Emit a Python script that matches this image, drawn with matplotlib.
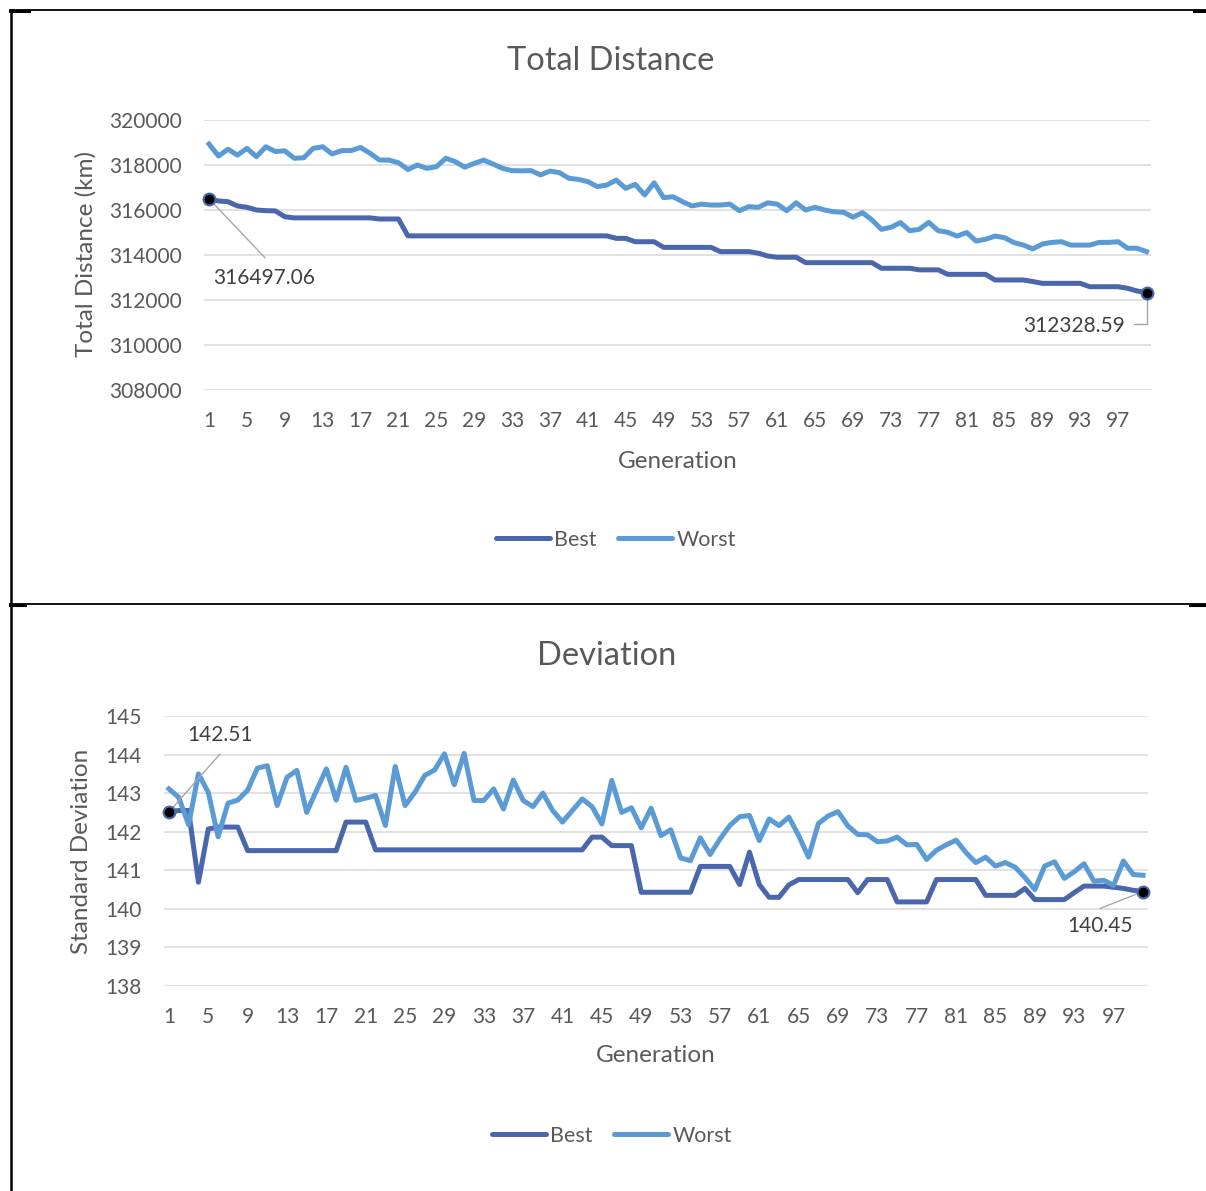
import matplotlib
matplotlib.use("Agg")
import matplotlib.pyplot as plt
from matplotlib.lines import Line2D
import numpy as np

plt.rcParams['font.family'] = ['Lato', 'DejaVu Sans']

# ---------------- data ----------------
generations = list(range(1, 101))

dist_best = [316497.06, 316400, 316370, 316180, 316120, 316000, 315970, 315960, 315700,
             315650, 315650, 315650, 315650, 315650, 315650, 315650, 315650, 315650,
             315600, 315600, 315600,
             314850, 314850, 314850, 314850, 314850, 314850, 314850, 314850, 314850, 314850, 314850,
             314850, 314850, 314850, 314850, 314850, 314850, 314850, 314850, 314850, 314850, 314850,
             314740, 314740,
             314590, 314590, 314590,
             314340, 314340, 314340, 314340, 314340, 314340,
             314150, 314150, 314150, 314150,
             314080, 313955,
             313900, 313900, 313900,
             313660, 313660, 313660, 313660, 313660, 313660, 313660, 313660,
             313410, 313410, 313410, 313410,
             313340, 313340, 313340,
             313140, 313140, 313140, 313140, 313140,
             312890, 312890, 312890, 312890,
             312820,
             312740, 312740, 312740, 312740, 312740,
             312590, 312590, 312590, 312590,
             312520, 312400, 312328.59]

dist_worst = [318930, 318400, 318700, 318440, 318740, 318370, 318810, 318600, 318630, 318300,
              318320, 318740, 318810, 318490, 318640, 318640, 318780, 318520, 318220, 318220,
              318100, 317800, 318000, 317850, 317920, 318300, 318150, 317900, 318070, 318220,
              318040, 317850, 317750, 317740, 317750, 317560, 317730, 317660, 317410, 317360,
              317260, 317040, 317110, 317330, 316960, 317140, 316670, 317210, 316550, 316590,
              316370, 316180, 316260, 316220, 316220, 316260, 315970, 316150, 316120, 316320,
              316260, 315970, 316320, 316000, 316120, 316000, 315920, 315900, 315680, 315880,
              315560, 315140, 315230, 315440, 315080, 315140, 315450, 315080, 315010, 314840,
              315000, 314620, 314700, 314840, 314770, 314550, 314440, 314270, 314490, 314560,
              314590, 314440, 314440, 314440, 314560, 314560, 314590, 314300, 314300, 314150]

dev_best = [142.51, 142.55, 142.55, 140.69, 142.07, 142.12, 142.12, 142.12,
            141.51, 141.51, 141.51, 141.51, 141.51, 141.51, 141.51, 141.51, 141.51, 141.51,
            142.25, 142.25, 142.25,
            141.53, 141.53, 141.53, 141.53, 141.53, 141.53, 141.53, 141.53, 141.53, 141.53, 141.53,
            141.53, 141.53, 141.53, 141.53, 141.53, 141.53, 141.53, 141.53, 141.53, 141.53, 141.53,
            141.86, 141.86,
            141.64, 141.64, 141.64,
            140.43, 140.43, 140.43, 140.43, 140.43, 140.43,
            141.10, 141.10, 141.10, 141.10,
            140.63, 141.47, 140.63,
            140.30, 140.30,
            140.62,
            140.76, 140.76, 140.76, 140.76, 140.76, 140.76,
            140.42,
            140.76, 140.76, 140.76,
            140.18, 140.18, 140.18, 140.18,
            140.76, 140.76, 140.76, 140.76, 140.76,
            140.35, 140.35, 140.35, 140.35,
            140.53,
            140.24, 140.24, 140.24, 140.24,
            140.42,
            140.59, 140.59, 140.59, 140.56,
            140.53, 140.48, 140.45]

dev_worst = [143.11, 142.89, 142.18, 143.50, 143.02, 141.87, 142.74, 142.82, 143.08, 143.65,
             143.71, 142.68, 143.41, 143.59, 142.50, 143.07, 143.63, 142.82, 143.67, 142.81,
             142.87, 142.94, 142.16, 143.69, 142.68, 143.02, 143.46, 143.60, 144.02, 143.22,
             144.03, 142.81, 142.81, 143.11, 142.59, 143.34, 142.81, 142.65, 143.00, 142.55,
             142.25, 142.55, 142.85, 142.65, 142.20, 143.33, 142.50, 142.62, 142.10, 142.61,
             141.90, 142.05, 141.32, 141.25, 141.84, 141.41, 141.81, 142.16, 142.39, 142.42,
             141.77, 142.33, 142.16, 142.38, 141.90, 141.34, 142.21, 142.41, 142.52, 142.15,
             141.93, 141.92, 141.74, 141.76, 141.86, 141.66, 141.67, 141.28, 141.52, 141.66,
             141.78, 141.46, 141.20, 141.34, 141.11, 141.20, 141.08, 140.81, 140.50, 141.11,
             141.22, 140.79, 140.96, 141.17, 140.72, 140.74, 140.61, 141.24, 140.89, 140.87]

dist_yticks = [308000, 310000, 312000, 314000, 316000, 318000, 320000]
dev_yticks = [138, 139, 140, 141, 142, 143, 144, 145]
xtick_labels = list(range(1, 101, 4))

# ---------------- style ----------------
W, H = 1206, 1191
C_BEST = '#4A66AC'
C_WORST = '#5B9BD5'
TXT = '#595959'
GRID = '#D9D9D9'
LEAD = '#A6A6A6'

fig = plt.figure(figsize=(W / 100, H / 100), dpi=100)
fig.patch.set_facecolor('white')


def fx(x):
    return x / W


def fy(y):
    return 1 - y / H


def make_axes(left, right, top, bottom):
    return fig.add_axes([fx(left), fy(bottom), (right - left) / W, (bottom - top) / H])


def style_axes(ax, yticks):
    ax.set_xlim(0.5, 100.5)
    ax.set_ylim(yticks[0], yticks[-1])
    ax.set_yticks(yticks)
    ax.set_yticklabels([str(v) for v in yticks])
    ax.set_xticks(xtick_labels)
    ax.set_xticklabels([str(v) for v in xtick_labels])
    for s in ax.spines.values():
        s.set_visible(False)
    ax.grid(axis='y', color=GRID, linewidth=1.1)
    ax.set_axisbelow(True)
    ax.tick_params(axis='both', length=0, labelsize=15, colors=TXT)
    ax.tick_params(axis='y', pad=16)
    ax.tick_params(axis='x', pad=15)
    ax.set_facecolor('white')


# ---------------- top chart ----------------
ax1 = make_axes(204.3, 1151.3, 120, 390)
style_axes(ax1, dist_yticks)
ax1.plot(generations, dist_best, color=C_BEST, lw=3.6, solid_joinstyle='round', zorder=3)
ax1.plot(generations, dist_worst, color=C_WORST, lw=3.6, solid_joinstyle='round', zorder=3)
for i in (0, -1):
    ax1.plot(generations[i], dist_best[i], 'o', ms=8.5, mfc='black', mec=C_BEST, mew=1.5,
             zorder=5, clip_on=False)
# labels
ax1.annotate('', xy=(generations[0], dist_best[0]), xytext=(56, -59), textcoords='offset pixels',
             arrowprops=dict(arrowstyle='-', color=LEAD, lw=1, shrinkA=0, shrinkB=3))
ax1.annotate(f'{dist_best[0]:.2f}', xy=(generations[0], dist_best[0]), xytext=(4, -79),
             textcoords='offset pixels', ha='left', va='center', fontsize=15, color='#404040')
ax1.annotate('', xy=(generations[-1], dist_best[-1]), xytext=(-13, -31), textcoords='offset pixels',
             arrowprops=dict(arrowstyle='-', color=LEAD, lw=1, shrinkA=0, shrinkB=3,
                             connectionstyle='angle,angleA=0,angleB=90,rad=0'), annotation_clip=False)
ax1.annotate(f'{dist_best[-1]:.2f}', xy=(generations[-1], dist_best[-1]), xytext=(-22, -33),
             textcoords='offset pixels', ha='right', va='center', fontsize=15, color='#404040',
             annotation_clip=False)

fig.text(fx(611), fy(61), 'Total Distance', ha='center', va='center', fontsize=23.5, color=TXT)
fig.text(fx(86), fy(254), 'Total Distance (km)', ha='center', va='center', rotation=90,
         fontsize=17.5, color=TXT)
fig.text(fx(678), fy(461), 'Generation', ha='center', va='center', fontsize=17.5, color=TXT)

# ---------------- bottom chart ----------------
ax2 = make_axes(164, 1148, 716, 986)
style_axes(ax2, dev_yticks)
ax2.plot(generations, dev_best, color=C_BEST, lw=3.6, solid_joinstyle='round', zorder=3)
ax2.plot(generations, dev_worst, color=C_WORST, lw=3.6, solid_joinstyle='round', zorder=3)
for i in (0, -1):
    ax2.plot(generations[i], dev_best[i], 'o', ms=8.5, mfc='black', mec=C_BEST, mew=1.5,
             zorder=5, clip_on=False)
ax2.annotate('', xy=(generations[0], dev_best[0]), xytext=(51, 58), textcoords='offset pixels',
             arrowprops=dict(arrowstyle='-', color=LEAD, lw=1, shrinkA=0, shrinkB=3))
ax2.annotate(f'{dev_best[0]:.2f}', xy=(generations[0], dev_best[0]), xytext=(51, 77),
             textcoords='offset pixels', ha='center', va='center', fontsize=15, color='#404040')
ax2.annotate('', xy=(generations[-1], dev_best[-1]), xytext=(-43, -17), textcoords='offset pixels',
             arrowprops=dict(arrowstyle='-', color=LEAD, lw=1, shrinkA=0, shrinkB=3))
ax2.annotate(f'{dev_best[-1]:.2f}', xy=(generations[-1], dev_best[-1]), xytext=(-43, -35),
             textcoords='offset pixels', ha='center', va='center', fontsize=15, color='#404040')

fig.text(fx(607), fy(656), 'Deviation', ha='center', va='center', fontsize=23.5, color=TXT)
fig.text(fx(82), fy(851), 'Standard Deviation', ha='center', va='center', rotation=90,
         fontsize=17.5, color=TXT)
fig.text(fx(656), fy(1056), 'Generation', ha='center', va='center', fontsize=17.5, color=TXT)

# ---------------- legends ----------------
handles = [Line2D([0], [0], color=C_BEST, lw=3.6, solid_capstyle='round'),
           Line2D([0], [0], color=C_WORST, lw=3.6, solid_capstyle='round')]
for cx, cy in ((616, 540), (612, 1136)):
    leg = fig.legend(handles, ['Best', 'Worst'], loc='center', bbox_to_anchor=(fx(cx), fy(cy)),
                     ncol=2, frameon=False, fontsize=15.5, handlelength=2.5, handletextpad=0.2,
                     columnspacing=1.0, borderaxespad=0)
    for t in leg.get_texts():
        t.set_color(TXT)

# ---------------- table borders ----------------
def hline(y, x0, x1, lw):
    fig.add_artist(Line2D([fx(x0), fx(x1)], [fy(y), fy(y)], color='black', lw=lw,
                          transform=fig.transFigure))


def vline(x, y0, y1, lw):
    fig.add_artist(Line2D([fx(x), fx(x)], [fy(y0), fy(y1)], color='black', lw=lw,
                          transform=fig.transFigure))


vline(10.5, 9.5, 1191, 1.8)
hline(9.5, 10, 1206, 1.3)
hline(10.5, 10, 29, 2.2)
hline(10.5, 1194, 1206, 2.2)
hline(604, 10, 1206, 1.3)
hline(605, 10, 25, 2.2)
hline(605, 1190, 1206, 2.2)

fig.savefig('out.png', dpi=100, facecolor='white')
